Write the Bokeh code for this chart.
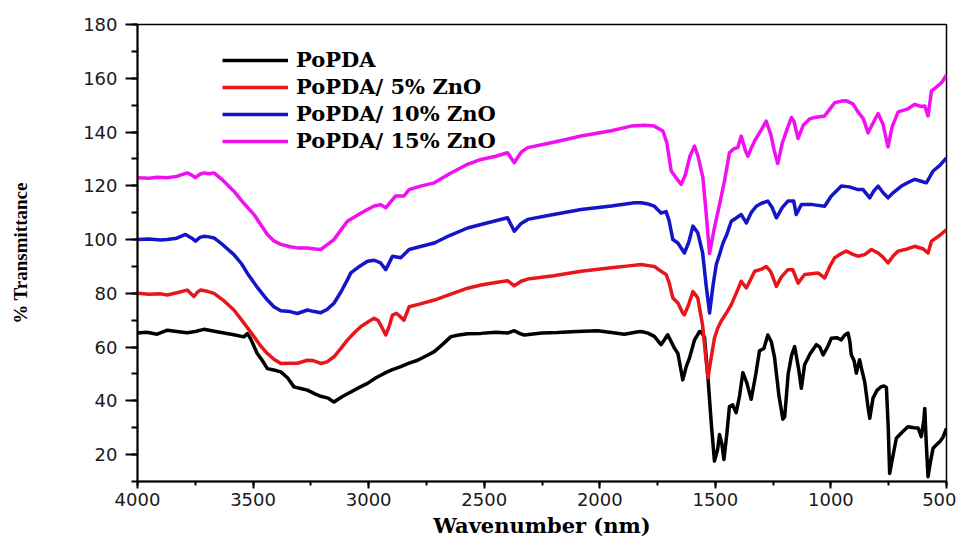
from bokeh.plotting import figure
from bokeh.models import Range1d, SingleIntervalTicker, Legend
from bokeh.embed import file_html
from bokeh.resources import INLINE

# ---------------- data ----------------
x_ticks_interval = 500
y_ticks_interval = 20

series_names = ["PoPDA", "PoPDA/ 5% ZnO", "PoPDA/ 10% ZnO", "PoPDA/ 15% ZnO"]
series_colors = ["#000000", "#E8161B", "#1414C8", "#F010F0"]

popda_wn = [4000, 3960, 3915, 3871, 3830, 3785, 3750, 3713, 3650, 3583, 3540, 3525, 3510,
            3482, 3460, 3438, 3410, 3380, 3350, 3323, 3290, 3265, 3230, 3207, 3175, 3150,
            3115, 3077, 3040, 3005, 2970, 2933, 2900, 2861, 2825, 2788, 2750, 2716, 2680,
            2644, 2610, 2572, 2514, 2450, 2400, 2370, 2345, 2327, 2250, 2182, 2100, 2009,
            1950, 1894, 1840, 1821, 1792, 1764, 1735, 1706, 1677, 1662, 1641, 1625, 1612,
            1590, 1568, 1561, 1547, 1532, 1518, 1504, 1490, 1482, 1472, 1463, 1450, 1439,
            1425, 1410, 1395, 1381, 1365, 1345, 1325, 1309, 1290, 1273, 1258, 1244, 1225,
            1208, 1200, 1185, 1170, 1157, 1140, 1128, 1114, 1090, 1063, 1048, 1034, 1015,
            998, 975, 955, 940, 926, 918, 912, 900, 890, 876, 865, 854, 840, 832, 818, 800,
            782, 770, 760, 752, 746, 735, 717, 690, 667, 640, 623, 609, 598, 594, 588, 580,
            570, 558, 540, 529, 515, 500]
popda_t = [65.2, 65.5, 64.8, 66.3, 65.8, 65.3, 65.8, 66.6, 65.6, 64.6, 63.8, 65.0, 63.0,
           57.6, 55.0, 52.0, 51.5, 50.8, 48.5, 45.2, 44.5, 44.0, 42.5, 41.7, 41.0, 39.6,
           41.5, 43.3, 45.0, 46.5, 48.5, 50.2, 51.5, 52.7, 54.0, 55.1, 56.8, 58.3, 61.0,
           63.9, 64.5, 65.0, 65.1, 65.5, 65.2, 66.1, 65.0, 64.5, 65.2, 65.4, 65.8, 66.1,
           65.4, 64.8, 65.6, 65.8, 65.2, 64.0, 60.9, 64.6, 59.6, 57.6, 47.8, 53.0, 55.9,
           62.7, 65.8, 65.6, 63.7, 48.6, 32.0, 17.6, 22.0, 27.5, 24.0, 18.2, 28.0, 37.9,
           38.5, 35.6, 42.0, 50.5, 47.0, 40.6, 50.0, 58.6, 59.5, 64.5, 62.0, 56.2, 42.0,
           33.2, 34.0, 50.0, 57.0, 60.2, 52.0, 44.7, 53.4, 57.5, 60.9, 60.0, 57.1, 60.0,
           63.3, 63.5, 62.7, 64.5, 65.2, 62.0, 57.1, 55.0, 50.3, 55.3, 51.0, 47.2, 38.0,
           33.5, 41.0, 44.0, 45.3, 45.5, 45.0, 30.0, 13.0, 18.0, 26.1, 28.5, 30.4, 30.0,
           29.9, 26.7, 33.0, 37.2, 25.0, 11.8, 17.0, 22.4, 24.0, 24.8, 26.5, 29.8]

zno5_wn = [4000, 3950, 3900, 3871, 3830, 3785, 3756, 3740, 3727, 3700, 3669, 3630, 3583,
           3540, 3496, 3468, 3438, 3410, 3380, 3340, 3308, 3265, 3240, 3207, 3180, 3150,
           3120, 3092, 3060, 3034, 3000, 2976, 2960, 2948, 2926, 2910, 2897, 2880, 2868,
           2847, 2825, 2780, 2716, 2650, 2572, 2514, 2450, 2399, 2370, 2340, 2312, 2200,
           2081, 1950, 1865, 1821, 1790, 1764, 1735, 1713, 1700, 1684, 1662, 1640, 1634,
           1615, 1597, 1576, 1555, 1540, 1532, 1520, 1504, 1490, 1475, 1450, 1431, 1410,
           1388, 1366, 1345, 1330, 1300, 1280, 1260, 1236, 1215, 1186, 1165, 1142, 1114,
           1085, 1056, 1027, 1005, 984, 955, 933, 905, 883, 854, 825, 796, 775, 753, 730,
           709, 670, 637, 600, 580, 565, 530, 500]
zno5_t = [80.0, 79.7, 79.8, 79.4, 80.2, 81.2, 78.8, 80.5, 81.2, 80.8, 80.0, 77.5, 73.8,
          69.0, 63.9, 60.5, 57.6, 55.5, 53.9, 54.0, 54.0, 55.1, 55.0, 53.9, 54.5, 56.4,
          59.5, 62.6, 65.5, 67.6, 69.5, 70.7, 70.0, 68.2, 64.5, 68.0, 71.9, 72.5, 71.7,
          70.0, 75.0, 76.0, 77.5, 79.5, 81.9, 83.1, 84.0, 84.7, 82.8, 84.5, 85.3, 86.5,
          88.2, 89.5, 90.3, 90.7, 90.3, 90.0, 88.2, 87.0, 84.0, 78.3, 76.4, 72.5, 72.0,
          76.0, 80.7, 78.3, 68.0, 55.0, 48.6, 55.0, 63.3, 67.0, 69.6, 73.0, 75.8, 80.0,
          84.5, 82.0, 85.5, 88.2, 89.0, 90.0, 88.0, 82.6, 86.0, 88.8, 88.8, 83.8, 87.0,
          87.3, 87.6, 85.7, 90.0, 93.2, 94.8, 95.7, 94.5, 93.8, 94.4, 96.3, 95.0, 93.5,
          91.3, 94.0, 95.7, 96.5, 97.5, 96.5, 95.0, 99.4, 101.5, 103.7]

zno10_wn = [4000, 3950, 3900, 3871, 3830, 3792, 3765, 3749, 3730, 3713, 3690, 3669, 3630,
            3583, 3550, 3525, 3480, 3438, 3410, 3380, 3340, 3308, 3265, 3240, 3207, 3180,
            3150, 3120, 3092, 3077, 3040, 3005, 2976, 2948, 2926, 2910, 2897, 2861, 2825,
            2780, 2716, 2650, 2572, 2514, 2450, 2399, 2370, 2340, 2312, 2200, 2081, 1950,
            1850, 1821, 1790, 1764, 1735, 1713, 1700, 1684, 1662, 1634, 1615, 1597, 1576,
            1555, 1540, 1525, 1510, 1496, 1480, 1467, 1450, 1431, 1410, 1388, 1366, 1345,
            1323, 1300, 1273, 1255, 1236, 1210, 1186, 1161, 1150, 1128, 1080, 1027, 1000,
            955, 920, 883, 861, 832, 815, 796, 775, 753, 730, 695, 660, 637, 610, 587, 558,
            530, 500]
zno10_t = [100.0, 100.2, 99.8, 100.0, 100.5, 101.9, 100.5, 99.4, 100.8, 101.2, 101.0, 100.6,
           98.0, 94.4, 91.0, 87.5, 82.0, 77.5, 75.0, 73.5, 73.2, 72.5, 73.8, 73.3, 72.8,
           74.0, 76.3, 80.5, 85.0, 87.6, 90.0, 91.9, 92.3, 91.3, 88.8, 91.5, 93.8, 93.2,
           96.3, 97.3, 98.7, 101.5, 104.3, 105.6, 107.0, 108.1, 103.1, 106.0, 107.5, 109.3,
           111.2, 112.5, 113.7, 113.7, 113.2, 112.4, 109.9, 110.4, 107.0, 100.0, 98.7, 95.0,
           99.0, 105.0, 102.5, 95.0, 83.0, 72.7, 83.0, 90.7, 95.0, 98.7, 102.0, 106.8,
           108.0, 109.3, 106.2, 110.0, 112.4, 113.5, 114.3, 112.0, 108.1, 112.0, 114.3,
           114.3, 109.3, 113.0, 113.0, 112.4, 116.0, 119.9, 119.6, 118.6, 118.6, 115.5,
           118.0, 119.9, 117.5, 115.5, 117.5, 119.9, 121.5, 122.4, 121.7, 121.1, 125.5,
           127.5, 130.4]

zno15_wn = [4000, 3950, 3915, 3871, 3830, 3785, 3765, 3749, 3730, 3713, 3690, 3669, 3630,
            3583, 3540, 3496, 3470, 3438, 3410, 3380, 3340, 3308, 3265, 3230, 3207, 3180,
            3150, 3120, 3092, 3040, 3005, 2976, 2948, 2926, 2905, 2883, 2847, 2825, 2780,
            2716, 2650, 2572, 2514, 2450, 2399, 2370, 2340, 2312, 2200, 2081, 1950, 1865,
            1807, 1764, 1727, 1710, 1691, 1670, 1648, 1630, 1610, 1590, 1575, 1554, 1540,
            1525, 1505, 1482, 1460, 1439, 1420, 1403, 1388, 1370, 1359, 1345, 1330, 1300,
            1280, 1260, 1245, 1230, 1210, 1190, 1171, 1160, 1142, 1120, 1090, 1070, 1027,
            1005, 984, 955, 933, 905, 883, 860, 839, 820, 796, 775, 753, 735, 709, 670, 637,
            610, 594, 580, 565, 540, 520, 500]
zno15_t = [123.0, 122.8, 123.2, 123.0, 123.5, 124.8, 124.0, 123.0, 124.3, 124.8, 124.5,
           124.8, 122.0, 118.0, 113.5, 109.3, 106.0, 101.9, 99.5, 98.2, 97.3, 96.9, 96.9,
           96.5, 96.3, 98.0, 100.0, 103.5, 106.8, 109.5, 111.2, 112.5, 113.0, 111.8, 114.0,
           116.2, 116.2, 118.6, 119.8, 121.1, 124.5, 128.0, 129.8, 131.0, 132.3, 128.6,
           132.5, 134.2, 136.2, 138.5, 140.5, 142.2, 142.5, 142.2, 140.4, 136.0, 125.5,
           123.0, 120.5, 124.0, 131.0, 134.8, 131.0, 123.0, 110.0, 94.8, 104.0, 113.0,
           122.0, 132.3, 133.8, 134.2, 138.5, 133.0, 131.0, 134.0, 136.7, 141.0, 144.1,
           139.0, 133.0, 128.3, 136.0, 141.0, 145.4, 144.0, 137.6, 142.5, 145.0, 145.4,
           146.0, 148.5, 150.9, 151.5, 151.6, 150.5, 147.5, 145.0, 139.7, 143.0, 146.9,
           143.0, 134.5, 142.0, 147.5, 148.5, 150.3, 149.5, 149.7, 146.0, 155.3, 157.0,
           158.5, 161.2]

x_label = "Wavenumber (nm)"
y_label = "% Transmittance"

# ---------------- figure ----------------
p = figure(width=956, height=540, output_backend="svg", toolbar_location=None,
           x_range=Range1d(4000, 500), y_range=Range1d(10, 180),
           min_border_left=137, min_border_right=10, min_border_top=24, min_border_bottom=40)
p.background_fill_color = "white"
p.border_fill_color = "white"
p.grid.visible = False
p.outline_line_color = "black"
p.outline_line_width = 1.5

all_wn = [popda_wn, zno5_wn, zno10_wn, zno15_wn]
all_t = [popda_t, zno5_t, zno10_t, zno15_t]
renderers = []
for wn, t, c in zip(all_wn, all_t, series_colors):
    r = p.line(wn, t, line_color=c, line_width=3.5, line_join="round")
    renderers.append(r)

# axes
p.xaxis.ticker = SingleIntervalTicker(interval=x_ticks_interval, num_minor_ticks=2)
p.yaxis.ticker = SingleIntervalTicker(interval=y_ticks_interval, num_minor_ticks=2)
for ax in (p.xaxis[0], p.yaxis[0]):
    ax.axis_line_color = "black"
    ax.axis_line_width = 2
    ax.major_tick_line_color = "black"
    ax.major_tick_line_width = 2
    ax.minor_tick_line_color = "black"
    ax.minor_tick_line_width = 2
    ax.major_tick_in = 0
    ax.minor_tick_in = 0
    ax.major_label_text_font = "DejaVu Sans"
    ax.major_label_text_font_size = "18px"
    ax.major_label_text_color = "#1a1a1a"

p.xaxis.major_tick_out = 7
p.xaxis.minor_tick_out = 4
p.xaxis.major_label_standoff = 4
p.xaxis.axis_label = x_label
p.xaxis.axis_label_text_font = "DejaVu Serif"
p.xaxis.axis_label_text_font_style = "bold"
p.xaxis.axis_label_text_font_size = "21px"
p.xaxis.axis_label_text_color = "black"
p.xaxis.axis_label_standoff = 4

p.yaxis.major_tick_out = 12
p.yaxis.minor_tick_out = 6
p.yaxis.major_label_standoff = 8
p.yaxis.axis_label = y_label
p.yaxis.axis_label_text_font = "Liberation Serif"
p.yaxis.axis_label_text_font_style = "bold"
p.yaxis.axis_label_text_font_size = "19px"
p.yaxis.axis_label_text_color = "black"
p.yaxis.axis_label_standoff = 49

legend = Legend(items=[(n, [r]) for n, r in zip(series_names, renderers)],
                location=(85, 328), orientation="vertical")
legend.border_line_color = None
legend.background_fill_alpha = 0
legend.padding = 0
legend.margin = 0
legend.spacing = 2
legend.glyph_width = 66
legend.glyph_height = 20
legend.label_standoff = 8
legend.label_text_font = "DejaVu Serif"
legend.label_text_font_style = "bold"
legend.label_text_font_size = "21px"
legend.label_text_color = "black"
p.add_layout(legend, "center")

open("out.html", "w").write(file_html(p, INLINE))
